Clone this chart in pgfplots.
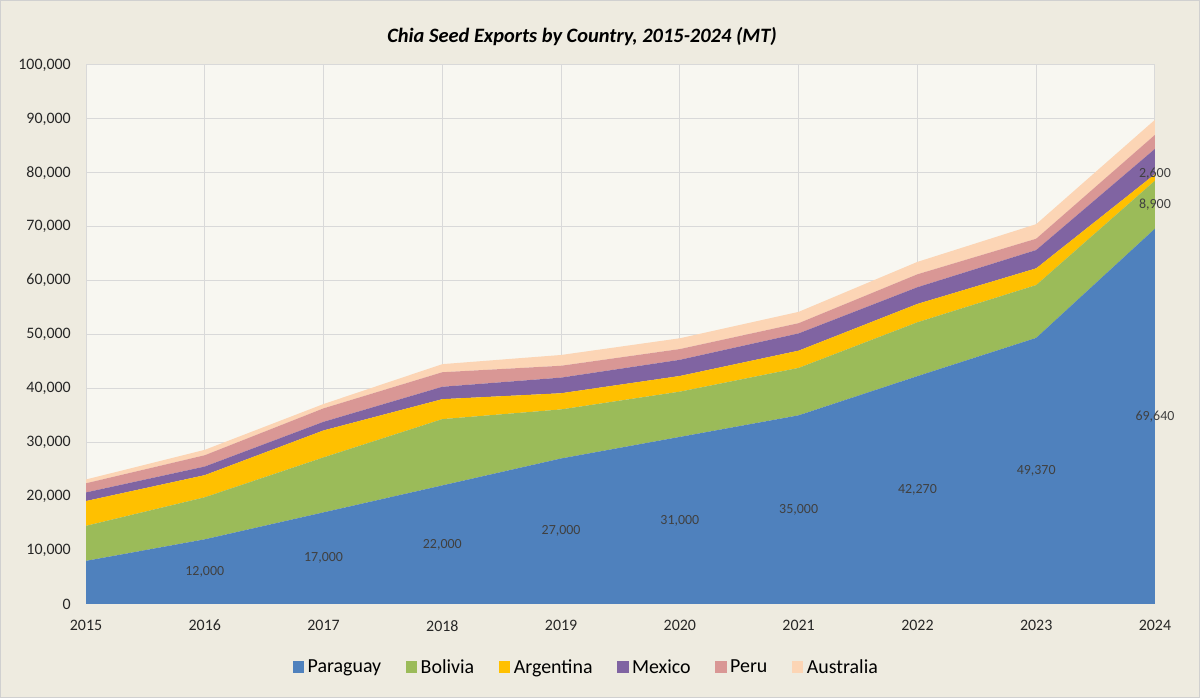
\documentclass[border=0pt]{standalone}
\usepackage{fontspec}
\setmainfont{Carlito}
\usepackage{pgfplots}
\usepackage{pgfplotstable}
\pgfplotsset{compat=1.18}
\definecolor{chartbg}{HTML}{EEEBE0}
\definecolor{plotbg}{HTML}{F8F7F1}
\definecolor{gridc}{HTML}{D9D9D9}
\definecolor{borderc}{HTML}{D0D0D0}
\definecolor{cPar}{HTML}{4F81BD}
\definecolor{cBol}{HTML}{9BBB59}
\definecolor{cArg}{HTML}{FFC000}
\definecolor{cMex}{HTML}{8064A2}
\definecolor{cPer}{HTML}{D99795}
\definecolor{cAus}{HTML}{FCD5B5}
\definecolor{labc}{HTML}{404040}
\definecolor{tickc}{HTML}{262626}

\pgfplotstableread{
year Paraguay Bolivia Argentina Mexico Peru Australia
2015 8000  6500  4600 1600 1700 700
2016 12000 7800  4100 1600 2100 1000
2017 17000 10200 5000 1600 2500 800
2018 22000 12300 3700 2300 2700 1500
2019 27000 9100  3000 2900 2200 2000
2020 31000 8400  2900 3000 2000 2000
2021 35000 8800  3200 3200 1900 2100
2022 42270 10000 3400 3100 2400 2300
2023 49370 9800  3100 3400 2100 2700
2024 69640 8900  1200 4700 2600 2800
}\datatable

\pgfplotstableread{
year y val
2016 6000 12000
2017 8500 17000
2018 11000 22000
2019 13500 27000
2020 15500 31000
2021 17500 35000
2022 21135 42270
2023 24685 49370
2024 34820 69640
2024 74090 8900
2024 79900 2600
}\labeltable

\begin{document}
\begin{tikzpicture}
\useasboundingbox (0,0) rectangle (1200bp,698bp);
\fill[chartbg] (0,0) rectangle (1200bp,698bp);
\draw[borderc, line width=1bp] (0.5bp,0.5bp) rectangle (1199.5bp,697.5bp);
\node[font=\fontsize{20.5}{24}\selectfont\bfseries\itshape, text=black] at (582bp,661bp) {Chia Seed Exports by Country, 2015-2024 (MT)};
\begin{axis}[
  at={(86bp,94bp)}, anchor=south west,
  scale only axis, width=1069bp, height=539bp,
  xmin=2015, xmax=2024, ymin=0, ymax=100000,
  stack plots=y,
  axis background/.style={fill=plotbg},
  xtick={2015,2016,2017,2018,2019,2020,2021,2022,2023,2024},
  xticklabels={2015,2016,2017,2018,2019,2020,2021,2022,2023,2024},
  ytick={0,10000,20000,30000,40000,50000,60000,70000,80000,90000,100000},
  scaled y ticks=false,
  /pgf/number format/assume math mode=true,
  /pgf/number format/fixed,
  /pgf/number format/precision=0,
  /pgf/number format/1000 sep={,},
  yticklabel style={/pgf/number format/fixed, font=\fontsize{16}{19}\selectfont, text=tickc, inner sep=0pt, anchor=east, xshift=-15bp},
  xticklabel style={font=\fontsize{16}{19}\selectfont, text=tickc, inner sep=0pt, anchor=north, yshift=-16bp},
  major tick length=0pt,
  grid=major,
  major grid style={gridc, line width=1bp},
  axis line style={gridc, line width=1bp},
  legend style={at={(0.4687,-0.1169)}, anchor=center, draw=none, fill=none,
    font=\fontsize{20}{24}\selectfont, text=black,
    /tikz/every even column/.append style={column sep=21bp},
    nodes={inner sep=3.5bp}},
  legend columns=-1,
  legend image code/.code={\fill[#1] (0bp,-5.5bp) rectangle (11.5bp,6bp);},
]
\addplot[fill=cPar, draw=none] table[x=year, y=Paraguay] {\datatable} \closedcycle;
\addlegendentry{Paraguay}
\addplot[fill=cBol, draw=none] table[x=year, y=Bolivia] {\datatable} \closedcycle;
\addlegendentry{Bolivia}
\addplot[fill=cArg, draw=none] table[x=year, y=Argentina] {\datatable} \closedcycle;
\addlegendentry{Argentina}
\addplot[fill=cMex, draw=none] table[x=year, y=Mexico] {\datatable} \closedcycle;
\addlegendentry{Mexico}
\addplot[fill=cPer, draw=none] table[x=year, y=Peru] {\datatable} \closedcycle;
\addlegendentry{Peru}
\addplot[fill=cAus, draw=none] table[x=year, y=Australia] {\datatable} \closedcycle;
\addlegendentry{Australia}
\end{axis}
\begin{axis}[
  at={(86bp,94bp)}, anchor=south west,
  scale only axis, width=1069bp, height=539bp,
  xmin=2015, xmax=2024, ymin=0, ymax=100000,
  hide axis, clip=false,
  /pgf/number format/assume math mode=true,
  /pgf/number format/1000 sep={,},
]
\addplot[draw=none, mark=none, nodes near coords, point meta=explicit,
  nodes near coords={\pgfmathprintnumber[fixed, precision=0]{\pgfplotspointmeta}},
  nodes near coords align={center},
  every node near coord/.append style={font=\fontsize{14}{17}\selectfont, text=labc, inner sep=0pt}]
  table[x=year, y=y, meta=val] {\labeltable};
\end{axis}
\end{tikzpicture}
\end{document}
